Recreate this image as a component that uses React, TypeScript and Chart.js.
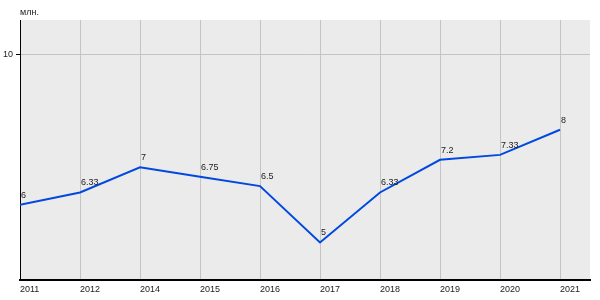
import React, { useEffect, useRef } from "react";
import { Chart, registerables } from "chart.js";

Chart.register(...registerables);

const years = ["2011", "2012", "2014", "2015", "2016", "2017", "2018", "2019", "2020", "2021"];
const values = [6, 6.33, 7, 6.75, 6.5, 5, 6.33, 7.2, 7.33, 8];
const valueLabels = ["6", "6.33", "7", "6.75", "6.5", "5", "6.33", "7.2", "7.33", "8"];
const yTicks = [10];
const unitLabel = "млн.";

const FONT = "'Liberation Sans', Arial, sans-serif";

export default function App() {
  const ref = useRef<HTMLCanvasElement | null>(null);

  useEffect(() => {
    if (!ref.current) return;
    const bgPlugin = {
      id: "bgPlot",
      beforeDraw(chart: any) {
        const { ctx, chartArea } = chart;
        ctx.save();
        ctx.fillStyle = "#ebebeb";
        ctx.fillRect(chartArea.left, chartArea.top, chartArea.right - chartArea.left, chartArea.bottom - chartArea.top);
        ctx.restore();
      },
    };
    const labelPlugin = {
      id: "valLabels",
      afterDatasetsDraw(chart: any) {
        const { ctx } = chart;
        const meta = chart.getDatasetMeta(0);
        ctx.save();
        ctx.font = `9px ${FONT}`;
        ctx.fillStyle = "#222";
        ctx.textAlign = "left";
        ctx.textBaseline = "alphabetic";
        meta.data.forEach((pt: any, i: number) => {
          ctx.fillText(valueLabels[i], pt.x + 1, pt.y - 7);
        });
        ctx.fillText(unitLabel, chart.chartArea.left, 15);
        ctx.restore();
      },
    };

    const chart = new Chart(ref.current, {
      type: "line",
      data: {
        datasets: [
          {
            data: values.map((v, i) => ({ x: i, y: v })),
            borderColor: "#0048e0",
            borderWidth: 2,
            pointRadius: 0,
            tension: 0,
            fill: false,
          },
        ],
      },
      options: {
        animation: false,
        responsive: false,
        devicePixelRatio: 1,
        layout: { padding: { left: 0, top: 20, right: 10, bottom: 0 } },
        plugins: { legend: { display: false }, tooltip: { enabled: false }, title: { display: false } },
        scales: {
          x: {
            type: "linear",
            min: 0,
            max: 9.5,
            afterBuildTicks(scale: any) {
              scale.ticks = years.map((_, i) => ({ value: i }));
            },
            afterFit(scale: any) {
              scale.height = 20;
            },
            grid: { color: "#c4c4c4", lineWidth: 1, drawTicks: false },
            border: { color: "#000", width: 2 },
            ticks: {
              align: "start",
              autoSkip: false,
              maxRotation: 0,
              padding: 4,
              color: "#222",
              font: { family: FONT, size: 9 },
              callback: (v: any) => years[v as number] ?? "",
            },
          },
          y: {
            type: "linear",
            min: 4,
            max: 10.92,
            afterBuildTicks(scale: any) {
              scale.ticks = yTicks.map((v) => ({ value: v }));
            },
            afterFit(scale: any) {
              scale.width = 20;
            },
            grid: { color: "#c4c4c4", lineWidth: 1, tickLength: 4, tickColor: "#000" },
            border: { color: "#000", width: 1 },
            ticks: {
              padding: 3,
              color: "#222",
              font: { family: FONT, size: 9 },
              callback: (v: any) => String(v),
            },
          },
        },
      },
      plugins: [bgPlugin, labelPlugin],
    } as any);
    return () => chart.destroy();
  }, []);

  return (
    <div style={{ position: "fixed", left: 0, top: 0, width: 600, height: 300, background: "#fff" }}>
      <canvas ref={ref} width={600} height={300} style={{ display: "block" }} />
    </div>
  );
}
